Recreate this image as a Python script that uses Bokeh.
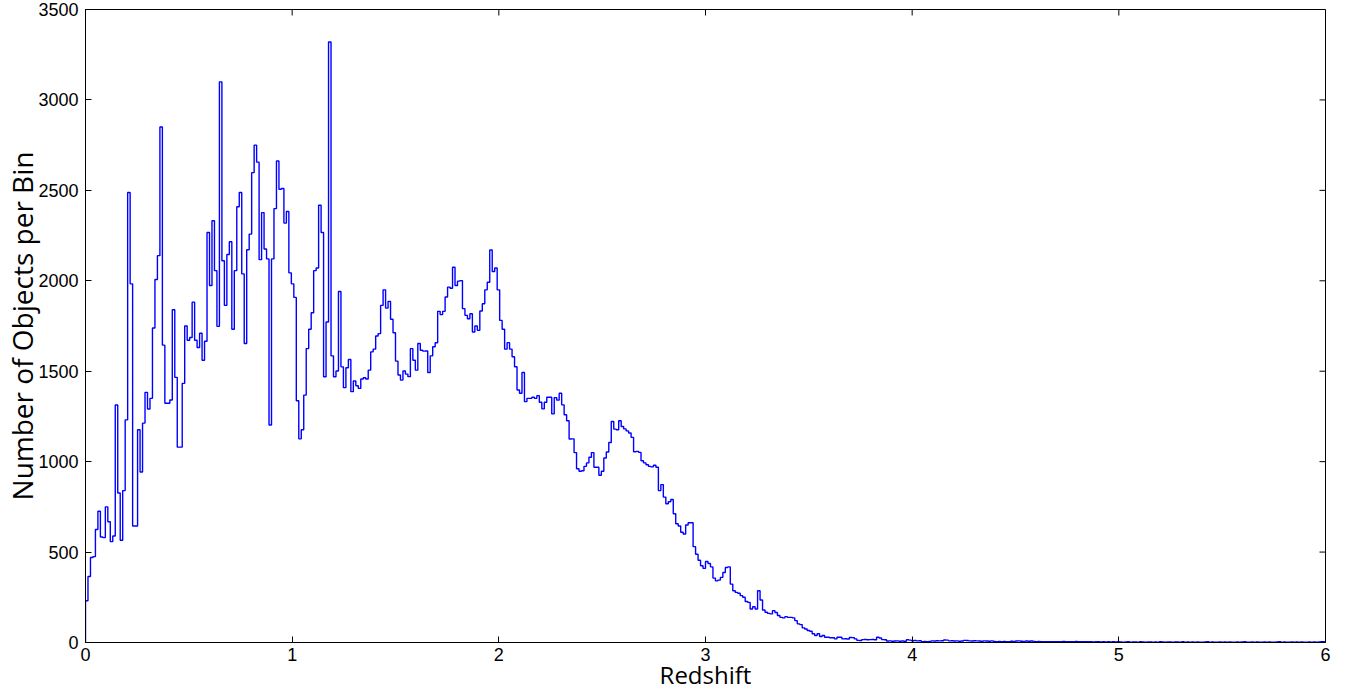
import numpy as np
from bokeh.plotting import figure
from bokeh.models import Range1d, FixedTicker
from bokeh.embed import file_html
from bokeh.resources import INLINE

# Histogram of object redshifts: 500 bins of width 0.012 between z = 0 and z = 6
z_min, z_max, n_bins = 0.0, 6.0, 500

counts_0_075 = [
    231, 365, 470, 475, 625, 726, 583, 580, 750, 668,
    558, 589, 1313, 827, 565, 840, 1231, 2488, 1983, 644,
    644, 1176, 943, 1213, 1383, 1291, 1350, 1739, 2007, 2139,
    2850, 1644, 1323, 1323, 1341, 1840, 1466, 1080, 1080, 1433,
    1750, 1671, 1686, 1882, 1671, 1631, 1710, 1561, 1666, 2267,
    1974, 2332, 2056, 1748, 3100, 2111, 1864, 2145, 2216, 1732,
    2056, 2409, 2488,
]

counts_075_143 = [
    2038, 1653, 2172, 2258, 2598, 2750, 2656, 2117, 2377, 2176,
    2121, 1203, 2121, 2399, 2662, 2506, 2510, 2319, 2383, 2044,
    1983, 1908, 1337, 1126, 1176, 1368, 1625, 1732, 1823, 2056,
    2071, 2418, 2267, 1469, 1772, 3320, 1585, 1469, 1501, 1941,
    1524, 1409, 1519, 1565, 1387, 1446, 1420, 1405, 1457, 1464,
    1457, 1506, 1607, 1622, 1695, 1708,
]

counts_143_216 = [
    1864, 1950, 1849, 1886, 1787, 1713, 1556, 1479, 1451, 1501,
    1484, 1470, 1625, 1561, 1506, 1653, 1616, 1611, 1612, 1493,
    1585, 1635, 1657, 1831, 1813, 1831, 1910, 1965, 1959, 2075,
    1974, 1998, 2001, 1846, 1809, 1790, 1818, 1717, 1750, 1726,
    1833, 1873, 1950, 1992, 2170, 2051, 2071, 1950, 1781, 1732,
    1622, 1658, 1622, 1580, 1525, 1396, 1378, 1493, 1332, 1350,
    1350,
]

counts_216_293 = [
    1356, 1350, 1365, 1328, 1292, 1328, 1356, 1356, 1264, 1354,
    1340, 1378, 1314, 1259, 1226, 1125, 1126, 1050, 961, 947,
    950, 974, 993, 1024, 1050, 969, 969, 925, 947, 1020,
    1053, 1106, 1222, 1180, 1176, 1226, 1194, 1181, 1170, 1158,
    1134, 1055, 1057, 1051, 1005, 993, 983, 974, 971, 980,
    969, 840, 873, 804, 767, 778, 791, 712, 657, 644,
    610, 600, 650, 662,
]

counts_293_365 = [
    662, 530, 488, 455, 424, 410, 448, 437, 418, 356,
    341, 345, 360, 387, 415, 418, 323, 286, 277, 272,
    259, 250, 227, 222, 185, 198, 185, 286, 235, 180,
    167, 161, 158, 176, 166, 149, 139, 136, 143, 139,
    139, 136, 121, 103, 99, 81, 75, 66, 62, 48,
    39, 48, 33, 39, 29, 29, 26, 26, 20, 29,
]

counts_365_500 = [
    29, 20, 21, 19, 28, 27, 20, 12, 11, 16,
    17, 15, 16, 17, 15, 29, 25, 16, 15, 8,
    9, 7, 8, 9, 7, 8, 7, 15, 13, 10,
    11, 9, 10, 5, 6, 4, 6, 9, 8, 10,
    9, 10, 14, 13, 9, 10, 8, 9, 7, 8,
    12, 11, 9, 8, 10, 9, 8, 7, 9,
    8, 7, 9, 6, 5, 6, 5, 6, 5, 4,
    7, 6, 8, 9, 7, 6, 8, 7, 8, 6,
    5, 6, 5, 4, 5, 4, 5, 4, 5, 4,
    5, 6, 4, 5, 4, 5, 6, 5, 4, 5,
    4, 5, 4, 3, 4, 5, 3, 4, 3, 4,
    3, 4, 3, 4,
]

counts_500_600 = [
    3, 2, 3, 4, 2, 3, 3, 2, 4, 3,
    2, 3, 3, 2, 3, 2, 4, 3, 2, 3,
    3, 2, 3, 3, 2, 4, 2, 3, 2, 3,
    2, 3, 2, 2, 3, 4, 2, 3, 2, 2,
    3, 2, 3, 2, 3, 2, 2, 3, 2, 3,
    4, 2, 2, 3, 2, 3, 2, 2, 3, 2,
    3, 2, 2, 3, 4, 2, 3, 2, 2, 3,
    2, 3, 2, 3, 2, 2, 3, 2, 3, 2,
    3, 4, 5,
]

x_ticks = [0, 1, 2, 3, 4, 5, 6]
y_ticks = [0, 500, 1000, 1500, 2000, 2500, 3000, 3500]
x_lo, x_hi = 0, 6
y_lo, y_hi = 0, 3500

counts = np.array(counts_0_075 + counts_075_143 + counts_143_216 + counts_216_293
                  + counts_293_365 + counts_365_500 + counts_500_600, dtype=float)
counts = counts[:n_bins]
if len(counts) < n_bins:
    counts = np.concatenate([counts, np.full(n_bins - len(counts), counts[-1])])
edges = np.linspace(z_min, z_max, n_bins + 1)

# step outline of the histogram, closed down to zero at both ends
xs = np.repeat(edges, 2)
ys = np.concatenate([[0.0], np.repeat(counts, 2), [0.0]])

left_px, right_px, top_px, bottom_px = 85, 27, 9, 50
W, H = 1352, 693

p = figure(width=W, height=H, output_backend="svg", toolbar_location=None,
           x_range=Range1d(x_lo, x_hi), y_range=Range1d(y_lo, y_hi),
           min_border_left=left_px, min_border_right=right_px,
           min_border_top=top_px, min_border_bottom=bottom_px,
           x_axis_label="Redshift", y_axis_label="Number of Objects per Bin")
p.background_fill_color = "white"
p.border_fill_color = "white"
p.grid.visible = False
p.outline_line_color = "black"
p.outline_line_width = 1

p.line(xs, ys, line_color="#0000ff", line_width=1.4)

for ax in p.xaxis + p.yaxis:
    ax.major_tick_in = 6
    ax.major_tick_out = 0
    ax.minor_tick_in = 0
    ax.minor_tick_out = 0
    ax.axis_line_color = "black"
    ax.major_tick_line_color = "black"
    ax.major_label_text_font = "Liberation Sans"
    ax.major_label_text_font_size = "18px"
    ax.major_label_text_color = "black"
    ax.axis_label_text_font = "Open Sans"
    ax.axis_label_text_font_style = "normal"
    ax.axis_label_text_color = "black"

p.xaxis.ticker = FixedTicker(ticks=x_ticks)
p.yaxis.ticker = FixedTicker(ticks=y_ticks)
p.xaxis.major_label_standoff = 5
p.yaxis.major_label_standoff = 7
p.xaxis.axis_label_text_font_size = "24px"
p.yaxis.axis_label_text_font_size = "28px"
p.xaxis.axis_label_standoff = -6
p.yaxis.axis_label_standoff = -6

# inward tick marks along the top and right edges of the frame
frame_w = W - left_px - right_px
frame_h = H - top_px - bottom_px
tick_len_px = 6
dy = tick_len_px * (y_hi - y_lo) / frame_h
dx = tick_len_px * (x_hi - x_lo) / frame_w
p.segment(x0=x_ticks, y0=[y_hi] * len(x_ticks), x1=x_ticks, y1=[y_hi - dy] * len(x_ticks),
          line_color="black", line_width=1)
p.segment(x0=[x_hi] * len(y_ticks), y0=y_ticks, x1=[x_hi - dx] * len(y_ticks), y1=y_ticks,
          line_color="black", line_width=1)

open("out.html", "w").write(file_html(p, INLINE))
